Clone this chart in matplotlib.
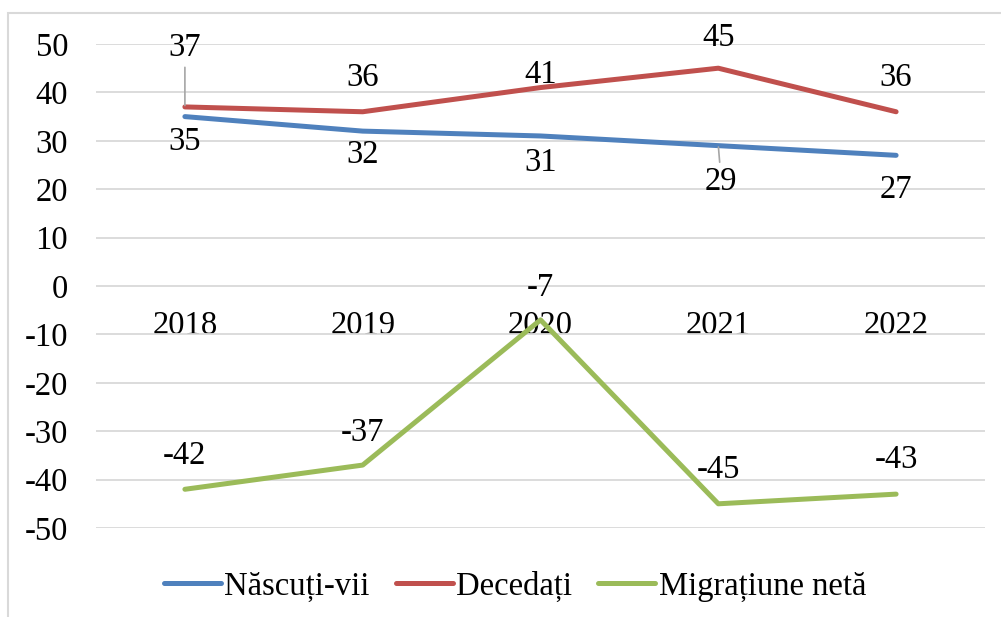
import matplotlib
matplotlib.use("Agg")
import matplotlib.pyplot as plt
from matplotlib.patches import Rectangle

plt.rcParams['font.family'] = ['Liberation Serif', 'DejaVu Serif']

years = ["2018", "2019", "2020", "2021", "2022"]
nascuti = [35, 32, 31, 29, 27]
decedati = [37, 36, 41, 45, 36]
migratie = [-42, -37, -7, -45, -43]

# label offsets in pixels (dx, dy) for each series
off_nascuti = [(0, -25), (0, -24), (0, -27), (3, -36), (0, -34)]
off_decedati = [(0, 59), (0, 34), (0, 13), (0, 30), (0, 34)]
off_migratie = [(0, 34), (0, 32), (0, 32), (0, 34), (0, 34)]

BLUE = "#4F81BD"
RED = "#C0504D"
GREEN = "#9BBB59"
GRID = "#D9D9D9"
FS = 23.5

fig = plt.figure(figsize=(10.01, 6.17), dpi=100)
ax = fig.add_axes([96/1001, 1-528/617, (985-96)/1001, (528-44)/617])

x = list(range(len(years)))
ax.plot(x, nascuti, color=BLUE, lw=3.6, solid_capstyle='round', label="Născuți-vii", zorder=3)
ax.plot(x, decedati, color=RED, lw=3.6, solid_capstyle='round', label="Decedați", zorder=3)
ax.plot(x, migratie, color=GREEN, lw=3.6, solid_capstyle='round', label="Migrațiune netă", zorder=3)

ax.set_xlim(-0.5, len(years) - 0.5)
ax.set_ylim(-50, 50)
ax.spines['bottom'].set_position(('data', 0))
ax.set_yticks(range(-50, 51, 10))
ax.set_yticklabels([str(v) for v in range(-50, 51, 10)])
ax.yaxis.grid(True, color=GRID, lw=1.3)
ax.set_axisbelow(True)
ax.set_xticks(x)
ax.set_xticklabels(years)
for s in ax.spines.values():
    s.set_visible(False)
ax.tick_params(axis='both', length=0, labelsize=FS)
ax.tick_params(axis='x', pad=18)
ax.tick_params(axis='y', pad=20)


def labels(vals, offs, leaders=()):
    for i, (v, o) in enumerate(zip(vals, offs)):
        kw = {}
        if i in leaders:
            kw['arrowprops'] = dict(arrowstyle='-', color='#A6A6A6', lw=1.2, shrinkA=1, shrinkB=1)
        ax.annotate(str(v), (i, v), xytext=o, textcoords='offset pixels',
                    ha='center', va='center', fontsize=FS, zorder=4, **kw)


labels(nascuti, off_nascuti, leaders=(3,))
labels(decedati, off_decedati, leaders=(0,))
labels(migratie, off_migratie)

leg = fig.legend(loc='center', bbox_to_anchor=(515/1001, 1-586/617), ncol=3, frameon=False,
                 fontsize=FS, handlelength=1.75, handletextpad=0.1, columnspacing=0.8)

fig.patches.append(Rectangle((8/1001, -0.01), 1.02, 1-13/617+0.01, transform=fig.transFigure,
                             fill=False, edgecolor=GRID, lw=1.5))

fig.savefig("out.png", dpi=100)
